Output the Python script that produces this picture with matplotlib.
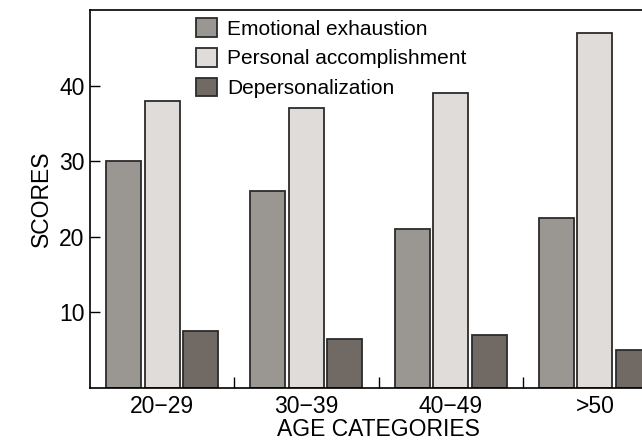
import matplotlib
matplotlib.use("Agg")
import matplotlib.pyplot as plt
import numpy as np

categories = ["20\u221229", "30\u221239", "40\u221249", ">50"]
emotional_exhaustion = [30, 26, 21, 22.5]
personal_accomplishment = [38, 37, 39, 47]
depersonalization = [7.5, 6.5, 7.0, 5.0]
series_names = ["Emotional exhaustion", "Personal accomplishment", "Depersonalization"]
colors = ["#9a9792", "#e0dcd9", "#716963"]
edge = "#2b2b2b"

plt.rcParams['font.family'] = ['Liberation Sans', 'DejaVu Sans']

fig = plt.figure(figsize=(6.42, 4.41), dpi=100)
ax = fig.add_axes([90/642, 1-387.7/441, 577/642, (387.7-10)/441])

x = np.arange(len(categories))
w = 0.243
off = 0.267
for i, (vals, name, c) in enumerate(zip([emotional_exhaustion, personal_accomplishment, depersonalization], series_names, colors)):
    ax.bar(x + (i-1)*off, vals, width=w, color=c, edgecolor=edge, linewidth=1.3, label=name)

ax.set_xlim(-0.5, 3.5)
ax.set_ylim(0, 50)
ax.set_yticks([10, 20, 30, 40])
ax.set_xticks(x)
ax.set_xticklabels(categories)
ax.set_xticks([0.5, 1.5, 2.5], minor=True)
ax.tick_params(axis='x', which='major', length=0, labelsize=16.5, pad=5)
ax.tick_params(axis='x', which='minor', direction='in', length=8, width=1)
ax.tick_params(axis='y', direction='in', length=7.5, width=1, labelsize=16.5, pad=4)
for s in ax.spines.values():
    s.set_linewidth(1.2)
ax.set_ylabel("SCORES", fontsize=16.5, labelpad=4)
ax.set_xlabel("AGE CATEGORIES", fontsize=16.5, labelpad=0)

leg = ax.legend(loc='upper left', bbox_to_anchor=(192/642, 1-14/441), bbox_transform=fig.transFigure,
                frameon=False, fontsize=15, handlelength=1.0, handleheight=1.0,
                handletextpad=0.5, labelspacing=0.45, borderaxespad=0, borderpad=0.2)

fig.savefig("out.png", dpi=100)
